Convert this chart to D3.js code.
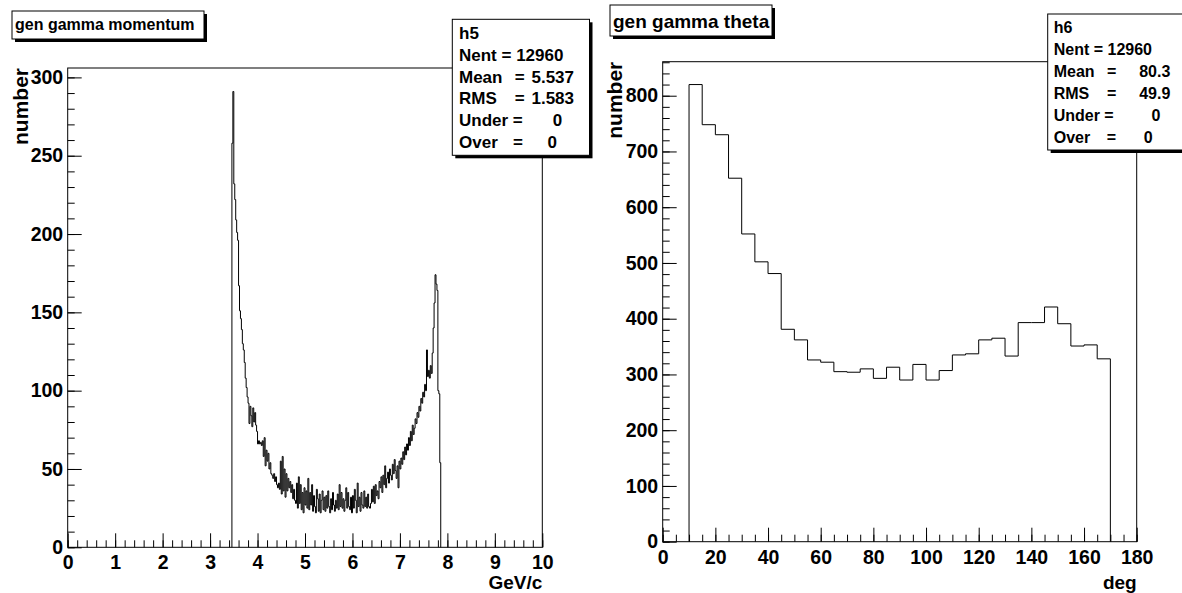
<!DOCTYPE html>
<html>
<head>
<meta charset="utf-8">
<script src="https://cdn.jsdelivr.net/npm/d3@7"></script>
<style>
  body { margin: 0; background: #fff; }
  svg text { font-family: "Liberation Sans", Arial, Helvetica, sans-serif; font-weight: bold; fill: #000; }
</style>
</head>
<body>
<div id="canvas"></div>
<script>
!function () {
  'use strict';

  // h5 : gen gamma momentum, 0.02 GeV/c bins starting at 3.46
  var momentumStart = 3.46;
  var momentumBinWidth = 0.02;
  var momentumCounts = [
    258, 291, 232, 222, 209, 201, 196, 167, 151, 146,
    139, 130, 126, 118, 108, 102, 96, 92, 79, 90,
    84, 77, 89, 80, 86, 78, 74, 66, 68, 66,
    67, 65, 68, 58, 70, 52, 62, 55, 60, 50,
    54, 47, 46, 44, 47, 42, 45, 40, 38, 41,
    37, 55, 34, 58, 36, 50, 32, 47, 36, 44,
    38, 42, 35, 40, 31, 37, 30, 28, 41, 25,
    45, 28, 40, 24, 35, 22, 38, 27, 36, 25,
    44, 24, 35, 27, 40, 23, 33, 26, 22, 37,
    31, 23, 34, 22, 30, 36, 24, 32, 23, 33,
    25, 36, 26, 22, 31, 24, 35, 27, 23, 30,
    25, 34, 24, 40, 26, 35, 25, 31, 23, 30,
    38, 25, 35, 26, 24, 32, 22, 33, 25, 37,
    30, 22, 41, 26, 32, 23, 35, 27, 25, 36,
    26, 32, 25, 34, 26, 25, 28, 37, 29, 39,
    28, 40, 33, 36, 31, 42, 38, 45, 35, 46,
    40, 52, 38, 44, 48, 41, 50, 46, 43, 53,
    47, 56, 49, 44, 52, 38, 55, 50, 57, 53,
    61, 56, 64, 59, 66, 62, 70, 65, 74, 68,
    78, 72, 76, 82, 79, 86, 83, 90, 87, 95,
    92, 99, 96, 104, 100, 126, 109, 113, 108, 116,
    111, 124, 140, 156, 174, 168, 164, 100, 98, 54
  ];

  // h6 : gen gamma theta, 5 deg bins starting at 10
  var thetaStart = 10;
  var thetaBinWidth = 5;
  var thetaCounts = [
    820, 748, 730, 652, 552, 502, 481, 381, 362, 326,
    322, 305, 304, 310, 293, 313, 290, 318, 290, 307,
    335, 337, 362, 365, 333, 393, 393, 421, 391, 351,
    353, 328
  ];

  var momentumTicks = d3.range(0, 11, 1);
  var momentumMinor = d3.range(0, 51).map(function (i) { return i * 0.2; });
  var momentumYTicks = d3.range(0, 301, 50);
  var momentumYMinor = d3.range(0, 306, 10);

  var thetaTicks = d3.range(0, 181, 20);
  var thetaMinor = d3.range(0, 181, 5);
  var thetaYTicks = d3.range(0, 801, 100);
  var thetaYMinor = d3.range(0, 861, 20);

  var momentumStats = [["h5"], ["Nent = 12960"], ["Mean", "5.537"], ["RMS", "1.583"], ["Under", "0"], ["Over", "0"]];
  var thetaStats = [["h6"], ["Nent = 12960"], ["Mean", "80.3"], ["RMS", "49.9"], ["Under", "0"], ["Over", "0"]];

  var svg = d3.select("#canvas").append("svg")
    .attr("width", 1182)
    .attr("height", 593)
    .style("display", "block");

  svg.append("rect").attr("width", 1182).attr("height", 593).attr("fill", "#fff");

  function drawPanel (p) {
    var g = svg.append("g");
    var x = d3.scaleLinear().domain(p.xDomain).range([p.x0, p.x1]);
    var y = d3.scaleLinear().domain(p.yDomain).range([p.y1, p.y0]);

    g.append("rect")
      .attr("x", p.x0).attr("y", p.y0)
      .attr("width", p.x1 - p.x0).attr("height", p.y1 - p.y0)
      .attr("fill", "none").attr("stroke", "#000").attr("stroke-width", 1);

    // minor ticks
    g.append("g").attr("transform", "translate(0," + p.y1 + ")")
      .call(d3.axisBottom(x).tickValues(p.xMinor).tickSizeInner(-7).tickSizeOuter(0).tickFormat(""))
      .call(function (a) { a.select(".domain").remove(); });
    g.append("g").attr("transform", "translate(" + p.x0 + ",0)")
      .call(d3.axisLeft(y).tickValues(p.yMinor).tickSizeInner(-7).tickSizeOuter(0).tickFormat(""))
      .call(function (a) { a.select(".domain").remove(); });

    // major ticks + labels
    var xa = g.append("g").attr("transform", "translate(0," + p.y1 + ")")
      .call(d3.axisBottom(x).tickValues(p.xTicks).tickSizeInner(-14).tickSizeOuter(0).tickPadding(8));
    var ya = g.append("g").attr("transform", "translate(" + p.x0 + ",0)")
      .call(d3.axisLeft(y).tickValues(p.yTicks).tickSizeInner(-14).tickSizeOuter(0).tickPadding(4.5));
    [xa, ya].forEach(function (a) {
      a.select(".domain").remove();
      a.attr("font-family", null).attr("font-size", null);
      a.selectAll("text").style("font-size", "19.5px");
    });

    g.append("text")
      .attr("x", p.x1).attr("y", 588.5)
      .attr("text-anchor", "end")
      .style("font-size", "19px")
      .text(p.xTitle);

    g.append("text")
      .attr("transform", "translate(" + p.yTitleX + "," + p.y0 + ") rotate(-90)")
      .attr("text-anchor", "end")
      .style("font-size", "21px")
      .text("number");

    // histogram outline
    var pts = [[p.start, 0]];
    p.counts.forEach(function (c, i) {
      var lo = p.start + i * p.width;
      pts.push([lo, c], [lo + p.width, c]);
    });
    pts.push([p.start + p.counts.length * p.width, 0]);

    g.append("path")
      .datum(pts)
      .attr("fill", "none")
      .attr("stroke", "#000")
      .attr("stroke-width", 1)
      .attr("d", d3.line().x(function (d) { return x(d[0]); }).y(function (d) { return y(d[1]); }));

    // title pave
    shadowBox(p.title.x, p.title.y, p.title.w, p.title.h);
    svg.append("text")
      .attr("x", p.title.x + 3).attr("y", p.title.base)
      .style("font-size", p.title.size + "px")
      .text(p.title.text);

    // stats pave
    var s = p.stats;
    shadowBox(s.x, s.y, s.w, s.h);
    p.statLines.forEach(function (line, i) {
      var ty = s.y + s.rows[i];
      var t = svg.append("g").style("font-size", s.size + "px");
      t.append("text").attr("x", s.x + s.pad).attr("y", ty).attr("dy", "0.35em").text(line[0]);
      if (line.length > 1) {
        t.append("text").attr("x", s.x + s.eq[i]).attr("y", ty).attr("dy", "0.35em").text("=");
        t.append("text").attr("x", s.x + s.end[i]).attr("y", ty).attr("dy", "0.35em")
          .attr("text-anchor", "end").text(line[1]);
      }
    });
  }

  function shadowBox (x, y, w, h) {
    svg.append("rect").attr("x", x + 3).attr("y", y + 3).attr("width", w).attr("height", h).attr("fill", "#000");
    svg.append("rect").attr("x", x).attr("y", y).attr("width", w).attr("height", h)
      .attr("fill", "#fff").attr("stroke", "#000").attr("stroke-width", 1);
  }

  drawPanel({
    x0: 67.7, x1: 542.3, y0: 68, y1: 547.3,
    xDomain: [0, 10], yDomain: [0, 306],
    xTicks: momentumTicks, xMinor: momentumMinor,
    yTicks: momentumYTicks, yMinor: momentumYMinor,
    xTitle: "GeV/c", yTitleX: 28,
    start: momentumStart, width: momentumBinWidth, counts: momentumCounts,
    title: { x: 12, y: 11, w: 192, h: 28, base: 29.5, size: 16, text: "gen gamma momentum" },
    stats: { x: 452.3, y: 19.3, w: 137.2, h: 136, size: 17, pad: 6.7,
      rows: [13.5, 35.5, 57.5, 79, 101, 123],
      eq: [0, 0, 62.4, 62.4, 60.5, 60.7], end: [0, 0, 121.7, 121.7, 110, 104.7] },
    statLines: momentumStats
  });

  drawPanel({
    x0: 662.7, x1: 1136.7, y0: 61.7, y1: 541.7,
    xDomain: [0, 180], yDomain: [0, 861],
    xTicks: thetaTicks, xMinor: thetaMinor,
    yTicks: thetaYTicks, yMinor: thetaYMinor,
    xTitle: "deg", yTitleX: 622,
    start: thetaStart, width: thetaBinWidth, counts: thetaCounts,
    title: { x: 610, y: 5, w: 162, h: 31, base: 28, size: 19, text: "gen gamma theta" },
    stats: { x: 1047.7, y: 14, w: 140, h: 136, size: 16, pad: 6,
      rows: [13, 35, 57, 79, 101, 123],
      eq: [0, 0, 59.3, 59.3, 56.5, 59], end: [0, 0, 122.6, 122.6, 112.6, 105] },
    statLines: thetaStats
  });

}.call(this);
</script>
</body>
</html>
